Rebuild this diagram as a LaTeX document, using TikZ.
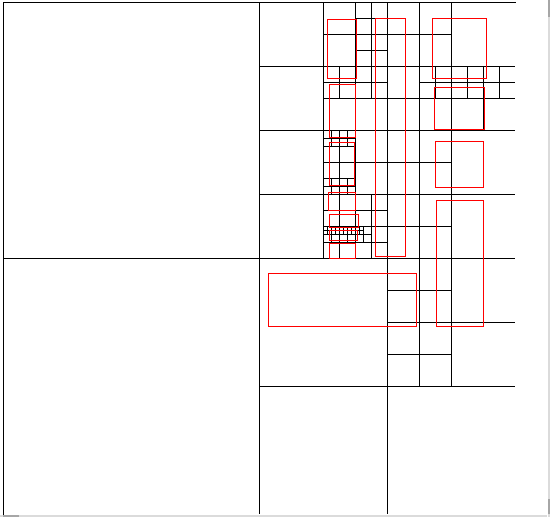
\documentclass[tikz,border=0pt]{standalone}
\begin{document}
\begin{tikzpicture}[x=1pt,y=-1pt,
  gridline/.style={black,line width=1pt},
  objbox/.style={red,line width=1pt},
  scrolltrack/.style={fill=black!14},
  scrollthumb/.style={fill=black!35}]
\useasboundingbox (0,0) rectangle (550,517);
\fill[white] (0,0) rectangle (550,517);
\begin{scope}[shift={(3.3,2.3)}]
  % outer border (top and left)
  \draw[gridline,line cap=rect] (0,512) -- (0,0) -- (512,0);
  % quadtree subdivisions: each split cell draws its centre cross
  \foreach \cx/\cy/\cs in {
    0/0/512,
    256/0/256, 256/256/256,
    256/0/128, 384/0/128, 256/128/128, 384/128/128, 384/256/128,
    320/0/64, 320/64/64, 320/128/64, 320/192/64,
    384/0/64, 384/64/64, 448/64/64, 384/128/64, 384/192/64,
    384/256/64, 384/320/64,
    352/0/32, 352/32/32, 320/64/32, 352/64/32,
    320/128/32, 320/160/32, 320/192/32, 352/192/32,
    320/224/32, 352/224/32,
    416/64/32, 448/64/32, 480/64/32,
    320/128/16, 336/128/16, 320/176/16, 336/176/16,
    320/224/16, 336/224/16, 352/224/16,
    320/224/8, 328/224/8, 336/224/8, 344/224/8, 352/224/8}{
    \draw[gridline] ({\cx+\cs/2},\cy) -- ({\cx+\cs/2},{\cy+\cs});
    \draw[gridline] (\cx,{\cy+\cs/2}) -- ({\cx+\cs},{\cy+\cs/2});
  }
  % object rectangles
  \draw[objbox] (324,17) rectangle (353,76);
  \draw[objbox] (372,16) rectangle (402,254);
  \draw[objbox] (429,16) rectangle (483.4,76);
  \draw[objbox] (326.2,82) rectangle (352,135);
  \draw[objbox] (431,85.4) rectangle (481,127);
  \draw[objbox] (326.2,140) rectangle (351.4,183.4);
  \draw[objbox] (432,139) rectangle (480.4,185);
  \draw[objbox] (325,190) rectangle (352,208);
  \draw[objbox] (326,212) rectangle (355,225);
  \draw[objbox] (326,228) rectangle (354,238);
  \draw[objbox] (326,241) rectangle (352,256);
  \draw[objbox] (433,198) rectangle (480.4,324);
  \draw[objbox] (265,271) rectangle (413,324);
\end{scope}
% window scroll bars
\path[scrolltrack] (547.5,0) rectangle (550,517);
\path[scrollthumb] (547.5,0) rectangle (550,17);
\path[scrollthumb] (547.5,499) rectangle (550,514);
\path[scrolltrack] (0,515) rectangle (547,517);
\path[scrollthumb] (3,515) rectangle (19,517);
\end{tikzpicture}
\end{document}
